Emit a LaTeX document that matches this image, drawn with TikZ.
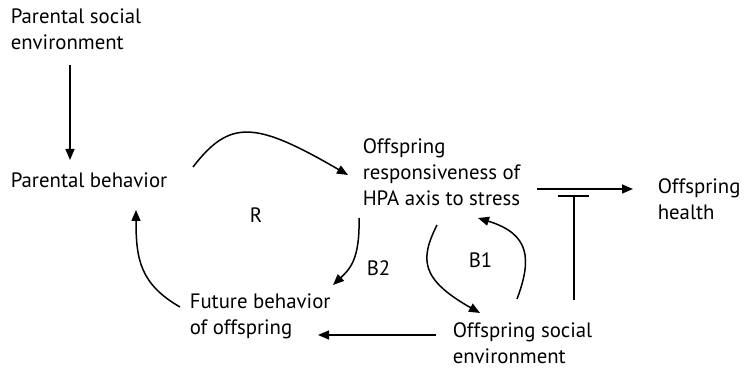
\documentclass[tikz,border=0pt]{standalone}
\usepackage{fontspec}
\setmainfont{PT Sans}
\usetikzlibrary{arrows.meta}
\tikzset{
  lbl/.style={anchor=west,align=left,inner sep=0pt,font=\fontsize{20.8}{26}\selectfont},
  arr/.style={-{Triangle[length=11pt,width=9pt]}},
}

\begin{document}
\begin{tikzpicture}[x=1pt,y=1pt,line width=1.5pt]
\path[use as bounding box] (0,0) rectangle (750,369);
% factors
\node[lbl] (pse) at (10,339.5) {Parental social\\environment};
\node[lbl] (pb) at (10,189) {Parental behavior};
\node[lbl] (hpa) at (362,197) {Offspring\\responsiveness of\\HPA axis to stress};
\node[lbl] (oh) at (657,169.5) {Offspring\\health};
\node[lbl] (fb) at (189,52.5) {Future behavior\\of offspring};
\node[lbl] (ose) at (452,26) {Offspring social\\environment};
% loop labels
\node[lbl] (r) at (249,154) {R};
\node[lbl] (b2) at (366,101) {B2};
\node[lbl] (b1) at (468,109) {B1};
% links
\draw[arr] (70,304) -- (70,209);
\draw[arr] (193,202) .. controls (230,250) and (255,248) .. (348,194);
\draw[arr] (359,151) .. controls (360,110) and (350,100) .. (333,84);
\draw[arr] (437,144) .. controls (420,110) and (420,90) .. (480,56);
\draw[arr] (517,70) .. controls (532,110) and (530,135) .. (478,151);
\draw[arr] (180,62) .. controls (140,85) and (136,110) .. (136,159);
\draw[arr] (537,180) -- (633,180);
\draw[arr] (436,34) -- (318,34);
\draw (558,173) -- (589,173) (574,173) -- (574,69);
\end{tikzpicture}
\end{document}
